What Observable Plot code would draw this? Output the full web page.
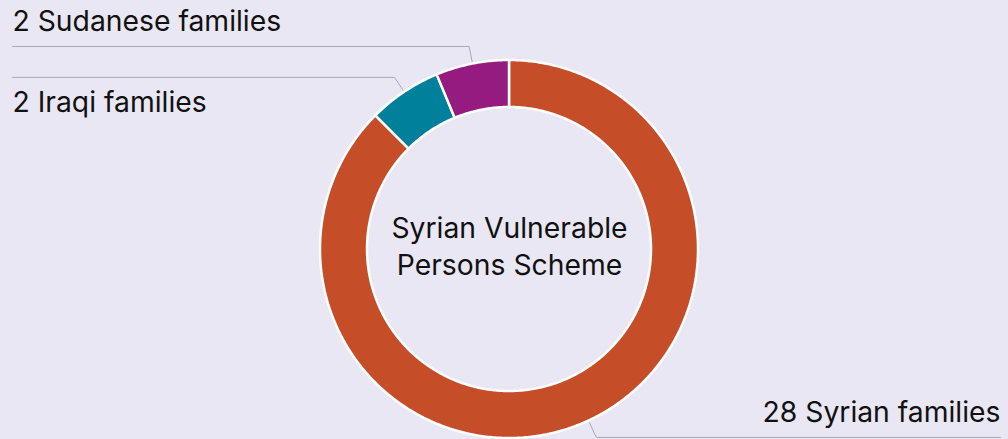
<!DOCTYPE html>
<html><head><meta charset="utf-8">
<script src="https://cdn.jsdelivr.net/npm/d3@7"></script>
<script src="https://cdn.jsdelivr.net/npm/@observablehq/plot@0.6"></script>
<style>
html,body{margin:0;padding:0;background:#E9E7F3;}
#chart svg{display:block;}
</style></head><body><div id="chart"></div>
<script>
// ---- data ----
const groups = ["Syrian", "Iraqi", "Sudanese"];
const families = [28, 2, 2];
const labels = ["28 Syrian families", "2 Iraqi families", "2 Sudanese families"];
const colors = ["#C54E28", "#00809A", "#951B81"];
const centerLabel = "Syrian Vulnerable\nPersons Scheme";

// ---- layout ----
const W = 1008, H = 439;
const cx = 509, cy = 249, rOut = 189, rIn = 142;
const rStart = 191, rElbow = 207, bottomLimit = 437;
const leftX = 12, rightX = 1000;
const FONT = "Inter, Lato, sans-serif";
const FS = 28.3;

const arcs = d3.pie().sort(null)(families);
const pt = (a, r) => [cx + r * Math.sin(a), cy - r * Math.cos(a)];

// ring sectors as areas (outer edge x1,y1 ; inner edge x2,y2)
const ring = [];
arcs.forEach((d, i) => {
  const n = Math.max(8, Math.ceil((d.endAngle - d.startAngle) / 0.01));
  for (let k = 0; k <= n; k++) {
    const a = d.startAngle + (d.endAngle - d.startAngle) * k / n;
    const [x1, y1] = pt(a, rOut), [x2, y2] = pt(a, rIn);
    ring.push({group: groups[i], x1, y1, x2, y2});
  }
});

// leader lines
const leaders = [], texts = [];
const info = arcs.map((d, i) => {
  let a = (d.startAngle + d.endAngle) / 2;
  // rotate toward the right-side label if the elbow would fall off the bottom
  while (cy - rElbow * Math.cos(a) > bottomLimit) a -= 0.005;
  const [sx, sy] = pt(a, rStart), [ex, ey] = pt(a, rElbow);
  const right = Math.sin(a) > 0;
  return {i, a, sx, sy, ex, ey, right};
});
info.forEach(o => {
  const g = groups[o.i];
  leaders.push({group: g, x: o.sx, y: o.sy});
  leaders.push({group: g, x: o.ex, y: o.ey});
  leaders.push({group: g, x: o.right ? rightX : leftX, y: o.ey});
  const crowdedAbove = info.some(p => p !== o && p.right === o.right && o.ey - p.ey > 0 && o.ey - p.ey < 45);
  texts.push({
    label: labels[o.i],
    x: o.right ? rightX : leftX,
    y: crowdedAbove ? o.ey + 15 : o.ey - 15,
    side: o.right ? "end" : "start",
    line: crowdedAbove ? "top" : "bottom"
  });
});

const labelMarks = [];
for (const side of ["start", "end"]) for (const la of ["top", "bottom"]) {
  const sub = texts.filter(t => t.side === side && t.line === la);
  if (sub.length) labelMarks.push(Plot.text(sub, {
    x: "x", y: "y", text: "label", textAnchor: side, lineAnchor: la,
    fontSize: FS, fill: "#111"
  }));
}

const chart = Plot.plot({
  width: W, height: H,
  margin: 0,
  style: {background: "#E9E7F3", fontFamily: FONT, overflow: "visible"},
  x: {type: "identity", axis: null},
  y: {type: "identity", axis: null},
  color: {domain: groups, range: colors},
  marks: [
    Plot.line(leaders, {x: "x", y: "y", z: "group", stroke: "#A9A8B0", strokeWidth: 1}),
    Plot.area(ring, {x1: "x1", y1: "y1", x2: "x2", y2: "y2", z: "group", fill: "group", stroke: "white", strokeWidth: 2.5, strokeLinejoin: "miter"}),
    ...labelMarks,
    Plot.text([centerLabel], {x: () => cx, y: () => cy - 4.5, text: d => d, fontSize: FS, lineHeight: 1.31, fill: "#111", textAnchor: "middle"})
  ]
});
document.getElementById("chart").append(chart);
</script></body></html>
